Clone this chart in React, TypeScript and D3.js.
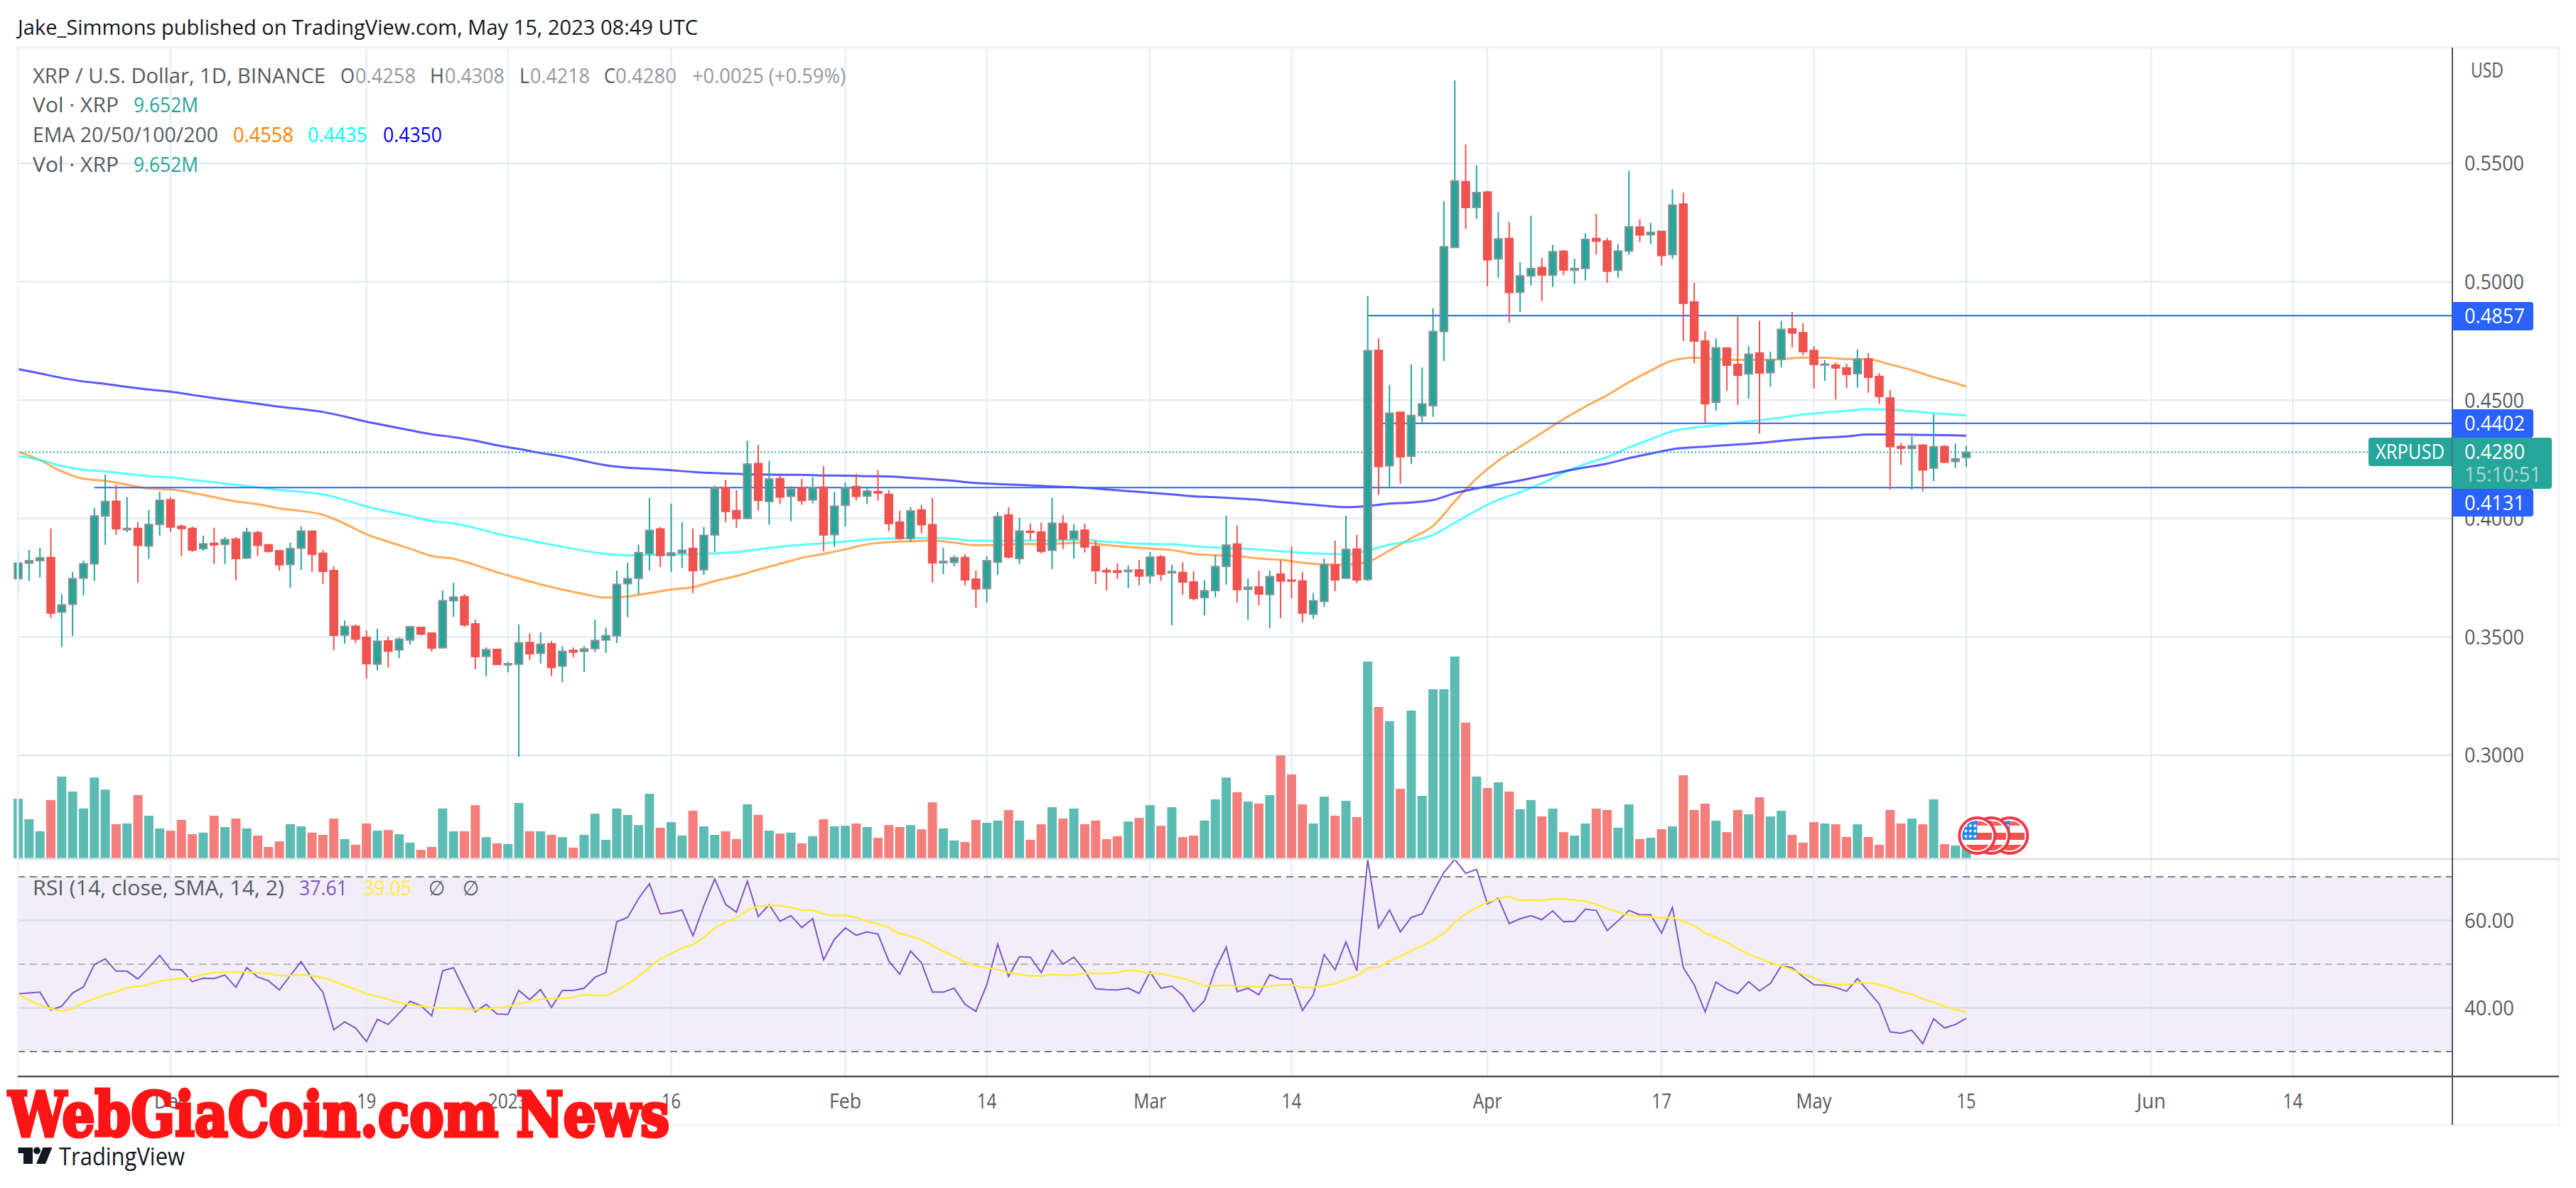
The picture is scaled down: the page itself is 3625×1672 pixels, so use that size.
import * as d3 from 'd3';
import React from 'react';

// prices are in 1/10000 USD, one entry per day starting Nov 17 (day -14, Dec 1 is day 0)
const firstDay = -14;

const opens = [
  3746,3812,3822,3835,3605,3638,3748,3809,4011,4073,
  3953,3958,3884,3975,4079,3967,3958,3873,3895,3891,
  3913,3833,3940,3889,3864,3806,3875,3946,3853,3780,
  3508,3545,3498,3385,3483,3445,3487,3540,3516,3454,
  3653,3670,3555,3418,3447,3382,3385,3476,3431,3471,
  3377,3443,3439,3451,3487,3505,3725,3748,3852,3956,
  3844,3855,3874,3784,3931,4130,4033,4001,4232,4072,
  4168,4094,4128,4079,4132,3932,4056,4135,4095,4114,
  4102,3985,3916,4036,3974,3813,3815,3835,3744,3704,
  3816,4015,3831,3946,3943,3866,3979,3914,3951,3882,
  3780,3779,3776,3783,3758,3838,3771,3772,3732,3666,
  3696,3798,3892,3701,3711,3679,3765,3740,3736,3596,
  3650,3804,3748,3871,3743,4710,4223,4449,4263,4434,
  4477,4790,5145,5423,5314,5379,5097,5183,4956,5025,
  5060,5028,5129,5049,5056,5183,5172,5049,5130,5231,
  5199,5213,5115,5328,4915,4750,4491,4720,4651,4611,
  4699,4616,4672,4801,4785,4710,4648,4648,4636,4612,
  4674,4600,4509,4304,4296,4310,4213,4304,4241,4258,
];

const highs = [
  3864,3867,3877,3958,3681,3775,3822,4045,4186,4142,
  4091,3985,4036,4114,4090,3975,3967,3928,3961,3922,
  3922,3961,3949,3892,3864,3898,3967,3951,3866,3798,
  3570,3552,3527,3534,3501,3498,3545,3543,3519,3696,
  3729,3681,3573,3456,3447,3395,3552,3516,3519,3483,
  3460,3456,3461,3573,3540,3780,3813,3889,4087,3964,
  4063,3985,3958,3964,4139,4163,4120,4329,4311,4244,
  4181,4137,4168,4175,4222,4112,4153,4189,4135,4204,
  4120,4033,4048,4058,4087,3877,3844,3849,3780,3841,
  4027,4048,4003,3979,3982,4087,4015,3976,3979,3907,
  3793,3811,3802,3826,3859,3846,3805,3816,3777,3739,
  3844,4012,3971,3747,3780,3780,3823,3882,3775,3685,
  3831,3907,4012,3931,4940,4761,4564,4449,4651,4638,
  4888,5340,5851,5580,5493,5384,5295,5252,5083,5279,
  5101,5156,5134,5098,5205,5288,5185,5159,5469,5264,
  5249,5213,5391,5376,4996,4792,4761,4720,4854,4728,
  4835,4705,4835,4873,4825,4728,4669,4659,4654,4714,
  4699,4615,4542,4319,4347,4313,4440,4310,4317,4308,
];

const lows = [
  3689,3736,3751,3580,3457,3504,3675,3736,3889,3931,
  3942,3729,3829,3928,3943,3841,3859,3863,3808,3808,
  3739,3830,3841,3856,3780,3708,3783,3775,3724,3443,
  3471,3474,3323,3359,3371,3410,3468,3507,3438,3453,
  3585,3543,3363,3333,3384,3351,2994,3403,3387,3335,
  3308,3414,3353,3436,3432,3474,3583,3681,3780,3795,
  3775,3791,3685,3762,3859,3985,3961,3998,4033,3974,
  4061,3989,4058,4063,3862,3880,3967,4076,4061,4076,
  3946,3910,3900,3938,3729,3765,3798,3718,3624,3645,
  3762,3831,3808,3910,3853,3787,3871,3831,3856,3724,
  3696,3744,3706,3718,3726,3736,3549,3678,3654,3591,
  3667,3721,3645,3573,3634,3537,3579,3663,3561,3576,
  3627,3693,3744,3726,3736,4100,4130,4148,4230,4406,
  4429,4666,5145,5223,5266,4981,5017,4828,4873,4984,
  4919,4978,5029,4991,5006,5116,4996,5017,5114,5167,
  5159,5069,5096,4750,4656,4404,4455,4539,4480,4506,
  4359,4557,4638,4723,4690,4549,4582,4503,4551,4554,
  4531,4485,4122,4227,4122,4116,4158,4235,4214,4218,
];

const closes = [
  3812,3822,3834,3601,3635,3746,3809,4011,4072,3957,
  3958,3887,3975,4077,3964,3958,3867,3893,3889,3911,
  3831,3942,3887,3862,3805,3873,3947,3849,3777,3507,
  3544,3491,3387,3482,3440,3490,3543,3512,3453,3653,
  3668,3551,3417,3446,3384,3387,3475,3429,3469,3371,
  3439,3436,3449,3485,3505,3722,3746,3856,3950,3844,
  3855,3866,3780,3929,4128,4030,4000,4230,4077,4167,
  4091,4124,4076,4130,3931,4052,4130,4094,4116,4108,
  3979,3916,4032,3974,3813,3819,3834,3741,3703,3822,
  4008,3838,3947,3942,3862,3980,3913,3947,3880,3780,
  3775,3773,3782,3757,3837,3765,3776,3732,3663,3695,
  3797,3888,3700,3710,3681,3755,3736,3736,3601,3653,
  3806,3741,3870,3741,4709,4220,4445,4261,4435,4484,
  4790,5148,5426,5314,5377,5093,5181,4955,5025,5056,
  5029,5127,5050,5056,5179,5172,5045,5130,5232,5198,
  5209,5111,5324,4909,4750,4485,4721,4648,4605,4694,
  4615,4670,4799,4784,4705,4651,4652,4636,4609,4673,
  4597,4516,4304,4297,4307,4205,4303,4238,4252,4280,
];

// volume in millions of XRP
const volumes = [
  45.0,29.5,20.4,44.0,61.7,50.4,37.6,61.0,51.9,25.8,
  26.3,47.7,32.2,22.6,20.9,29.0,18.2,19.4,32.2,23.6,
  30.0,22.6,17.2,8.6,12.8,25.8,24.1,19.4,17.7,30.0,
  14.5,10.3,26.3,20.9,21.4,18.2,11.8,6.4,8.6,37.6,
  20.4,20.4,40.1,16.0,11.3,10.8,41.8,20.4,20.4,17.7,
  16.0,8.1,17.7,33.7,14.0,37.6,32.7,25.1,48.7,23.1,
  27.3,17.2,35.9,24.1,17.7,20.4,14.5,40.8,32.7,20.9,
  18.7,19.4,11.3,16.7,29.5,24.1,24.6,26.3,23.6,15.5,
  25.1,23.6,25.1,21.9,42.3,22.6,13.5,12.3,29.0,26.8,
  28.5,36.4,28.5,14.0,25.8,38.6,30.0,37.6,25.8,28.5,
  14.5,16.7,27.8,30.5,40.1,24.6,38.6,16.0,17.2,28.5,
  44.5,61.0,49.9,42.8,41.3,47.7,77.7,63.3,40.7,26.3,
  46.6,32.2,43.4,31.1,148.5,114.2,103.5,52.5,111.5,47.2,
  127.6,127.6,152.3,102.4,61.7,53.1,57.4,50.4,37.0,44.0,
  31.6,37.5,19.8,17.2,26.3,37.5,36.5,23.1,40.7,14.5,
  15.5,22.0,24.1,62.7,36.5,41.3,28.4,19.8,36.5,33.2,
  46.1,31.6,35.9,17.7,11.8,27.3,26.3,25.7,16.1,25.7,
  16.1,10.2,36.5,26.3,30.0,25.7,44.5,10.7,9.7,9.65,
];

const rsiValues = [
  43.2,43.4,43.6,39.5,40.4,43.4,44.8,49.9,51.2,48.4,
  48.4,46.6,49.2,52.0,48.8,48.7,46.0,46.8,46.7,47.5,
  44.7,49.2,47.1,46.2,44.1,47.4,50.6,46.7,43.6,35.0,
  36.8,35.4,32.3,37.4,36.2,38.8,41.5,40.5,38.2,48.5,
  49.2,44.1,39.1,40.8,38.6,38.5,44.0,41.9,44.2,40.1,
  44.0,44.0,44.5,47.0,48.1,59.7,60.7,65.0,68.4,61.5,
  61.8,62.4,56.5,63.3,69.5,63.7,61.9,69.0,60.9,63.6,
  59.8,61.1,58.4,60.4,51.0,55.7,58.3,56.6,57.4,56.9,
  50.7,47.7,53.0,50.3,43.6,43.6,44.5,40.8,39.2,45.3,
  54.6,47.2,51.7,51.6,48.1,53.2,50.0,51.6,48.5,44.4,
  44.2,44.1,44.5,43.3,48.2,44.5,45.0,42.9,39.1,41.6,
  48.8,53.9,43.7,44.5,43.0,47.6,46.6,46.6,39.4,43.0,
  52.2,48.7,55.1,48.5,73.9,58.3,62.4,57.4,60.7,61.5,
  66.4,71.0,74.0,70.8,71.7,63.8,65.1,59.3,60.4,61.1,
  60.2,62.2,59.7,59.8,62.6,62.3,57.7,59.9,62.3,61.3,
  61.3,57.1,63.0,49.2,45.3,39.1,45.9,44.3,43.3,46.0,
  43.9,45.6,49.6,49.2,47.1,45.3,45.2,44.7,43.8,46.7,
  43.8,40.9,34.5,34.2,34.9,31.8,37.5,35.4,36.2,37.61,
];

const rsiSma = [
  43.1,41.7,40.7,39.8,39.3,39.8,41.2,42.1,43.0,43.7,
  44.6,44.9,45.3,46.1,46.5,46.7,47.0,47.6,48.1,48.2,
  48.2,48.2,48.0,47.8,47.4,47.4,47.6,47.3,46.9,46.1,
  45.2,44.2,43.2,42.6,42.0,41.2,40.8,40.4,40.1,40.0,
  39.9,39.7,39.5,39.8,40.0,40.2,41.0,41.4,42.0,42.1,
  42.2,42.4,43.0,42.9,42.8,43.9,45.5,47.2,49.3,51.2,
  52.4,53.7,54.5,56.1,58.3,59.6,60.7,62.3,63.3,63.4,
  63.4,63.0,62.4,62.3,61.5,61.1,61.2,60.7,59.8,59.2,
  58.4,57.0,56.5,55.6,54.2,52.9,51.8,50.4,49.6,49.1,
  48.8,48.1,47.7,47.3,47.3,47.7,47.5,47.5,47.9,47.9,
  47.9,48.1,48.6,48.4,47.9,47.8,47.3,46.7,46.0,45.1,
  45.0,45.2,44.9,44.9,44.8,45.0,45.2,45.3,44.7,44.7,
  45.1,45.5,46.6,47.3,49.1,49.3,50.7,51.8,53.1,54.2,
  55.5,57.1,59.6,61.5,63.0,64.2,64.9,65.5,64.6,64.7,
  64.6,64.9,64.9,64.7,64.4,63.7,62.7,61.9,61.2,61.0,
  60.8,60.6,60.7,59.8,58.8,57.1,56.1,55.0,53.5,52.3,
  51.3,50.4,49.6,48.7,47.7,46.9,45.7,45.3,45.3,45.8,
  45.7,45.4,44.6,43.7,43.1,42.1,41.3,40.3,39.6,39.05,
];

const emaDays = [...d3.range(-14, 165, 2), 165];

const ema20 = [
  4282,4247,4199,4168,4159,4143,4127,4123,4109,4090,
  4072,4061,4043,4032,4016,3978,3934,3902,3873,3842,
  3830,3804,3773,3747,3722,3700,3681,3666,3671,3685,
  3700,3710,3736,3757,3784,3809,3834,3851,3870,3891,
  3900,3904,3907,3898,3887,3888,3892,3892,3895,3898,
  3888,3880,3873,3867,3851,3845,3842,3831,3826,3813,
  3806,3805,3817,3865,3917,3969,4072,4169,4245,4303,
  4362,4420,4473,4521,4576,4625,4667,4679,4673,4670,
  4670,4673,4680,4679,4674,4673,4651,4627,4597,4572,4558,
];

const ema50 = [
  4264,4247,4222,4206,4199,4189,4179,4174,4163,4153,
  4143,4132,4120,4113,4102,4079,4051,4030,4011,3990,
  3979,3960,3936,3917,3898,3881,3864,3851,3845,3846,
  3848,3849,3853,3859,3870,3881,3889,3895,3903,3911,
  3916,3917,3918,3914,3906,3906,3907,3907,3909,3909,
  3902,3896,3893,3891,3884,3878,3874,3869,3862,3855,
  3851,3849,3865,3890,3904,3931,3982,4034,4079,4111,
  4148,4194,4231,4259,4300,4335,4369,4384,4393,4406,
  4415,4426,4440,4448,4455,4462,4460,4453,4445,4438,4435,
];

const ema200 = [
  4631,4613,4594,4579,4569,4556,4545,4536,4522,4509,
  4497,4485,4472,4462,4450,4431,4409,4391,4373,4356,
  4344,4329,4309,4294,4277,4262,4243,4225,4215,4210,
  4204,4197,4192,4189,4186,4185,4185,4182,4181,4179,
  4178,4172,4166,4159,4150,4146,4142,4138,4134,4130,
  4123,4116,4109,4102,4094,4090,4085,4079,4070,4062,
  4054,4048,4053,4063,4068,4078,4107,4127,4145,4161,
  4180,4199,4216,4232,4255,4274,4293,4301,4307,4313,
  4319,4328,4336,4342,4347,4355,4355,4354,4353,4351,4350,
];

const priceTicks = ['0.5500', '0.5000', '0.4500', '0.4000', '0.3500', '0.3000'];
const rsiTicks = ['60.00', '40.00'];

const timeTicks = [
  { day: 0, label: 'Dec', w: 46 },
  { day: 18, label: '19', w: 27 },
  { day: 31, label: '2023', w: 56 },
  { day: 46, label: '16', w: 27 },
  { day: 62, label: 'Feb', w: 45 },
  { day: 75, label: '14', w: 28 },
  { day: 90, label: 'Mar', w: 46 },
  { day: 103, label: '14', w: 28 },
  { day: 121, label: 'Apr', w: 41 },
  { day: 137, label: '17', w: 28 },
  { day: 151, label: 'May', w: 50 },
  { day: 165, label: '15', w: 27 },
  { day: 182, label: 'Jun', w: 41 },
  { day: 195, label: '14', w: 28 },
];

const levels = [
  { value: 0.4857, from: 110 },
  { value: 0.4402, from: 111 },
  { value: 0.4131, from: -7 },
];

const eventDays = [169, 167.3, 166];

const GREEN = '#26a69a';
const RED = '#ef5350';
const GRID = '#e3ecf3';
const AXIS = '#50535e';
const TEXT = '#555a60';
const BLUE = '#2962ff';
const FONT = '"Open Sans", sans-serif';

const LEFT = 25;
const AXIS_X = 3451;
const RIGHT = 3601;
const TOP = 67;
const MAIN_BOTTOM = 1209;
const RSI_BOTTOM = 1515;
const FRAME_BOTTOM = 1583;

const x = d3.scaleLinear().domain([0, 165]).range([240, 2767]);
const y = d3.scaleLinear().domain([0.3, 0.55]).range([1063, 230]);
const yp = (v: number) => y(v / 10000);
const yVol = d3.scaleLinear().domain([0, 152.3]).range([1208, 924]);
const yRsi = d3.scaleLinear().domain([30, 70]).range([1480, 1234]);

const dayOf = (i: number) => i + firstDay;

const emaLine = d3.line<number>()
  .x((_, i) => x(emaDays[i]))
  .y((d) => yp(d))
  .curve(d3.curveMonotoneX);

const rsiLine = d3.line<number>()
  .x((_, i) => x(dayOf(i)))
  .y((d) => yRsi(d));

type TxtProps = {
  x: number;
  y: number;
  w?: number;
  size?: number;
  fill?: string;
  anchor?: string;
  children: React.ReactNode;
};

// text centred on y, stretched to the width it has in the picture
function Txt({ x, y, w, size = 29, fill = TEXT, anchor = 'start', children }: TxtProps) {
  return (
    <text
      x={x}
      y={y}
      dy="0.36em"
      fontFamily={FONT}
      fontSize={size}
      fill={fill}
      textAnchor={anchor}
      {...(w ? { textLength: w, lengthAdjust: 'spacingAndGlyphs' } : {})}
    >
      {children}
    </text>
  );
}

function Tag({ y0, y1, text }: { y0: number; y1: number; text: string }) {
  return (
    <g>
      <rect x={AXIS_X} y={y0} width={114} height={y1 - y0} rx={4} fill={BLUE} />
      <rect x={AXIS_X} y={y0} width={8} height={y1 - y0} fill={BLUE} />
      <Txt x={3468} y={(y0 + y1) / 2} w={85} fill="#ffffff">{text}</Txt>
    </g>
  );
}

function Flag({ cx, id }: { cx: number; id: string }) {
  const cy = 1176;
  const star = d3.symbol().type(d3.symbolStar).size(12)() || '';
  return (
    <g>
      <clipPath id={id}>
        <circle cx={cx} cy={cy} r={21} />
      </clipPath>
      <ellipse cx={cx} cy={cy} rx={25} ry={25} fill="#ffffff" stroke="#f23645" strokeWidth={4} />
      <g clipPath={`url(#${id})`}>
        <rect x={cx - 21} y={cy - 4} width={42} height={10} fill={RED} />
        <rect x={cx - 21} y={cy - 20} width={42} height={6} fill={RED} opacity={0.9} />
        <rect x={cx - 21} y={cy + 13} width={42} height={9} fill={RED} />
        <rect x={cx - 21} y={cy - 21} width={21} height={27} fill="#2185e8" />
        {d3.range(3).map((r) => d3.range(3).map((c) => (
          <path
            key={`${r}-${c}`}
            d={star}
            fill="#ffffff"
            transform={`translate(${cx - 16 + c * 6.5},${cy - 14 + r * 7.5})`}
          />
        )))}
      </g>
    </g>
  );
}

export default function App() {
  const candles = opens.map((o, i) => ({
    day: dayOf(i),
    open: o,
    high: highs[i],
    low: lows[i],
    close: closes[i],
    up: closes[i] >= o,
  }));
  const bodyW = 10.5;

  return (
    <svg
      width={3625}
      height={1672}
      style={{ position: 'absolute', left: 0, top: 0, display: 'block', background: '#ffffff' }}
    >
      {/* title */}
      <Txt x={25} y={39} w={957} fill="#131722">
        Jake_Simmons published on TradingView.com, May 15, 2023 08:49 UTC
      </Txt>

      {/* rsi band sits under the grid */}
      <rect x={LEFT} y={yRsi(70)} width={AXIS_X - LEFT} height={yRsi(30) - yRsi(70)} fill="#7e57c2" opacity={0.1} />

      {/* grid */}
      {timeTicks.map((t) => (
        <line key={t.day} x1={x(t.day)} x2={x(t.day)} y1={TOP} y2={RSI_BOTTOM} stroke={GRID} strokeWidth={2} />
      ))}
      {priceTicks.map((t) => (
        <line key={t} x1={LEFT} x2={AXIS_X} y1={y(+t)} y2={y(+t)} stroke={GRID} strokeWidth={2.5} />
      ))}
      {rsiTicks.map((t) => (
        <line key={t} x1={LEFT} x2={AXIS_X} y1={yRsi(+t)} y2={yRsi(+t)} stroke="#d9dcec" strokeWidth={2.5} />
      ))}

      {/* rsi band limits */}
      <line x1={LEFT} x2={AXIS_X} y1={yRsi(70)} y2={yRsi(70)} stroke="#787b86" strokeWidth={2} strokeDasharray="10 7" />
      <line x1={LEFT} x2={AXIS_X} y1={yRsi(50)} y2={yRsi(50)} stroke="#b4b2c0" strokeWidth={2} strokeDasharray="10 7" />
      <line x1={LEFT} x2={AXIS_X} y1={yRsi(30)} y2={yRsi(30)} stroke="#787b86" strokeWidth={2} strokeDasharray="10 7" />

      {/* volume */}
      {volumes.map((v, i) => (
        <rect
          key={i}
          x={x(dayOf(i)) - 6.5}
          y={yVol(v)}
          width={13}
          height={yVol(0) - yVol(v)}
          fill={closes[i] >= opens[i] ? GREEN : RED}
          opacity={0.75}
        />
      ))}

      {/* emas */}
      <path d={emaLine(ema20) || ''} fill="none" stroke="#ff8000" strokeWidth={3} opacity={0.65} />
      <path d={emaLine(ema50) || ''} fill="none" stroke="#00ffff" strokeWidth={3} opacity={0.65} />
      <path d={emaLine(ema200) || ''} fill="none" stroke="#0000ff" strokeWidth={3} opacity={0.65} />

      {/* last price and drawn levels */}
      <line x1={LEFT} x2={3333} y1={y(0.428)} y2={y(0.428)} stroke={GREEN} strokeWidth={2} strokeDasharray="2 3" />
      {levels.map((l) => (
        <line key={l.value} x1={x(l.from)} x2={AXIS_X} y1={y(l.value)} y2={y(l.value)} stroke={BLUE} strokeWidth={2} />
      ))}

      {/* candles */}
      {candles.map((c) => {
        const color = c.up ? GREEN : RED;
        const top = yp(Math.max(c.open, c.close));
        const bottom = yp(Math.min(c.open, c.close));
        return (
          <g key={c.day}>
            <line x1={x(c.day)} x2={x(c.day)} y1={yp(c.high)} y2={yp(c.low)} stroke={color} strokeWidth={2} />
            <rect
              x={x(c.day) - bodyW / 2}
              y={top}
              width={bodyW}
              height={bottom - top}
              fill={color}
              stroke={c.up ? '#8d9096' : RED}
              strokeWidth={2}
            />
          </g>
        );
      })}

      {/* rsi */}
      <path d={rsiLine(rsiValues) || ''} fill="none" stroke="#7e57c2" strokeWidth={2} />
      <path d={rsiLine(rsiSma) || ''} fill="none" stroke="#ffeb3b" strokeWidth={2.5} />

      {eventDays.map((d, i) => (
        <Flag key={d} cx={x(d)} id={`flag${i}`} />
      ))}

      {/* pane frame */}
      <rect x={LEFT} y={TOP} width={RIGHT - LEFT} height={FRAME_BOTTOM - TOP} fill="none" stroke="#f0f3fa" strokeWidth={3} />
      <line x1={LEFT} x2={RIGHT} y1={MAIN_BOTTOM} y2={MAIN_BOTTOM} stroke="#e0e3eb" strokeWidth={3} />
      <line x1={LEFT} x2={RIGHT} y1={RSI_BOTTOM} y2={RSI_BOTTOM} stroke={AXIS} strokeWidth={2.5} />
      <line x1={AXIS_X} x2={AXIS_X} y1={TOP} y2={FRAME_BOTTOM} stroke={AXIS} strokeWidth={2} />

      {/* legends */}
      <Txt x={46} y={107} w={412}>XRP / U.S. Dollar, 1D, BINANCE</Txt>
      <Txt x={479} y={107} w={20}>O</Txt>
      <Txt x={500} y={107} w={85} fill="#9598a1">0.4258</Txt>
      <Txt x={605} y={107} w={20}>H</Txt>
      <Txt x={626} y={107} w={84} fill="#9598a1">0.4308</Txt>
      <Txt x={731} y={107} w={14}>L</Txt>
      <Txt x={746} y={107} w={84} fill="#9598a1">0.4218</Txt>
      <Txt x={850} y={107} w={16}>C</Txt>
      <Txt x={866} y={107} w={86} fill="#9598a1">0.4280</Txt>
      <Txt x={974} y={107} w={216} fill="#9598a1">+0.0025 (+0.59%)</Txt>

      <Txt x={46} y={148} w={121}>Vol · XRP</Txt>
      <Txt x={188} y={148} w={91} fill={GREEN}>9.652M</Txt>

      <Txt x={46} y={190} w={261}>EMA 20/50/100/200</Txt>
      <Txt x={328} y={190} w={85} fill="#ff8000">0.4558</Txt>
      <Txt x={433} y={190} w={84} fill="#00ffff">0.4435</Txt>
      <Txt x={539} y={190} w={83} fill="#0000ff">0.4350</Txt>

      <Txt x={46} y={232} w={121}>Vol · XRP</Txt>
      <Txt x={188} y={232} w={91} fill={GREEN}>9.652M</Txt>

      <Txt x={46} y={1250} w={354}>RSI (14, close, SMA, 14, 2)</Txt>
      <Txt x={421} y={1250} w={68} fill="#7e57c2">37.61</Txt>
      <Txt x={511} y={1250} w={68} fill="#ffeb3b">39.05</Txt>
      <Txt x={603} y={1250} w={23}>∅</Txt>
      <Txt x={651} y={1250} w={23}>∅</Txt>

      {/* axes */}
      <Txt x={3477} y={99} w={46}>USD</Txt>
      {priceTicks.map((t) => (
        <Txt key={t} x={3468} y={y(+t)} w={84}>{t}</Txt>
      ))}
      {rsiTicks.map((t) => (
        <Txt key={t} x={3468} y={yRsi(+t)} w={70}>{t}</Txt>
      ))}
      {timeTicks.map((t) => (
        <Txt key={t.day} x={x(t.day)} y={1550} w={t.w} anchor="middle">{t.label}</Txt>
      ))}

      {/* price tags */}
      <Tag y0={425} y1={465} text="0.4857" />
      <Tag y0={576} y1={616} text="0.4402" />
      <Tag y0={688} y1={727} text="0.4131" />
      <rect x={3333} y={616} width={117} height={40} rx={4} fill={GREEN} />
      <rect x={3442} y={616} width={8} height={40} fill={GREEN} />
      <Txt x={3343} y={636} w={97} fill="#ffffff">XRPUSD</Txt>
      <rect x={AXIS_X} y={616} width={140} height={72} rx={4} fill={GREEN} />
      <rect x={AXIS_X} y={616} width={8} height={72} fill={GREEN} />
      <Txt x={3468} y={636} w={85} fill="#ffffff">0.4280</Txt>
      <Txt x={3468} y={668} w={108} fill="#ffffff" >
        <tspan opacity={0.6}>15:10:51</tspan>
      </Txt>

      {/* watermark */}
      <text
        x={12}
        y={1599}
        fontFamily='"DejaVu Serif", serif'
        fontWeight="bold"
        fontSize={86}
        fill="#ff1515"
        stroke="#ff1515"
        strokeWidth={5}
        strokeLinejoin="miter"
        textLength={930}
        lengthAdjust="spacingAndGlyphs"
      >
        WebGiaCoin.com News
      </text>

      {/* tradingview logo */}
      <path d="M25.5 1615H46V1638H33V1623H25.5Z" fill="#131722" />
      <circle cx={52} cy={1619.5} r={5} fill="#131722" />
      <path d="M60.5 1615H73.5L64 1638H51Z" fill="#131722" />
      <text
        x={83}
        y={1640}
        fontFamily={FONT}
        fontSize={34}
        fill="#131722"
        textLength={177}
        lengthAdjust="spacingAndGlyphs"
      >
        TradingView
      </text>
    </svg>
  );
}
